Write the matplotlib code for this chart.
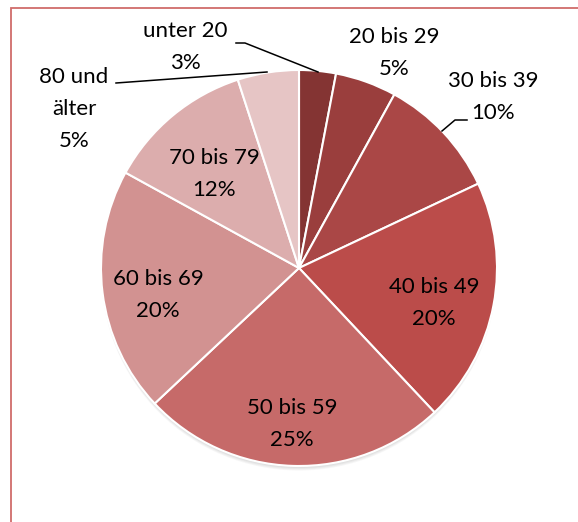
import matplotlib
matplotlib.use("Agg")
import matplotlib.pyplot as plt
from matplotlib.patches import Rectangle, Circle
import numpy as np

categories = ["unter 20", "20 bis 29", "30 bis 39", "40 bis 49", "50 bis 59",
              "60 bis 69", "70 bis 79", "80 und\nälter"]
values = [3, 5, 10, 20, 25, 20, 12, 5]
colors = ["#843433", "#9a3e3d", "#aa4746", "#bb4c4a", "#c66a69",
          "#d29291", "#dcadad", "#e6c5c5"]

# label text positions (pixel coords, y from top) and leader lines
label_pos = [(185, 47), (394, 53), (493, 97), (434, 303), (292, 424),
             (158, 295), (214, 174), (74, 109)]
leaders = {0: [(236, 43), (245, 43), (318, 72)],
           2: [(442, 131), (455, 120), (467, 120)],
           7: [(116, 83), (267, 72)]}

W, H = 578, 522
fig = plt.figure(figsize=(W / 100, H / 100), dpi=100)
ax = fig.add_axes([0, 0, 1, 1])

cx, cy, R = 299, H - 268, 198

# soft shadow (bottom)
for i in range(5):
    ax.add_patch(Circle((cx, cy - 2 - i * 0.7), R - 1 + i * 0.2,
                        color="black", alpha=0.03, lw=0, zorder=1))

wedges, _ = ax.pie(values, colors=colors, startangle=90, counterclock=False,
                   center=(cx, cy), radius=R, frame=True,
                   wedgeprops=dict(edgecolor="white", linewidth=1.5, zorder=2))
ax.set_xlim(0, W)
ax.set_ylim(0, H)
ax.set_aspect("equal")
ax.axis("off")

font = dict(family=["Lato", "DejaVu Sans"], fontsize=16, color="black")
for i, (cat, v) in enumerate(zip(categories, values)):
    x, y = label_pos[i]
    ax.text(x, H - y, f"{cat}\n{v}%", ha="center", va="center",
            linespacing=1.75, zorder=5, **font)

for i, pts in leaders.items():
    xs = [p[0] for p in pts]
    ys = [H - p[1] for p in pts]
    ax.plot(xs, ys, color="black", lw=1.1, zorder=4)

fig.patches.append(Rectangle((11 / W, -0.1), 2, (H - 8) / H + 0.1,
                             transform=fig.transFigure, fill=False,
                             edgecolor="#d06c6a", lw=1.3))

fig.savefig("out.png", dpi=100)
